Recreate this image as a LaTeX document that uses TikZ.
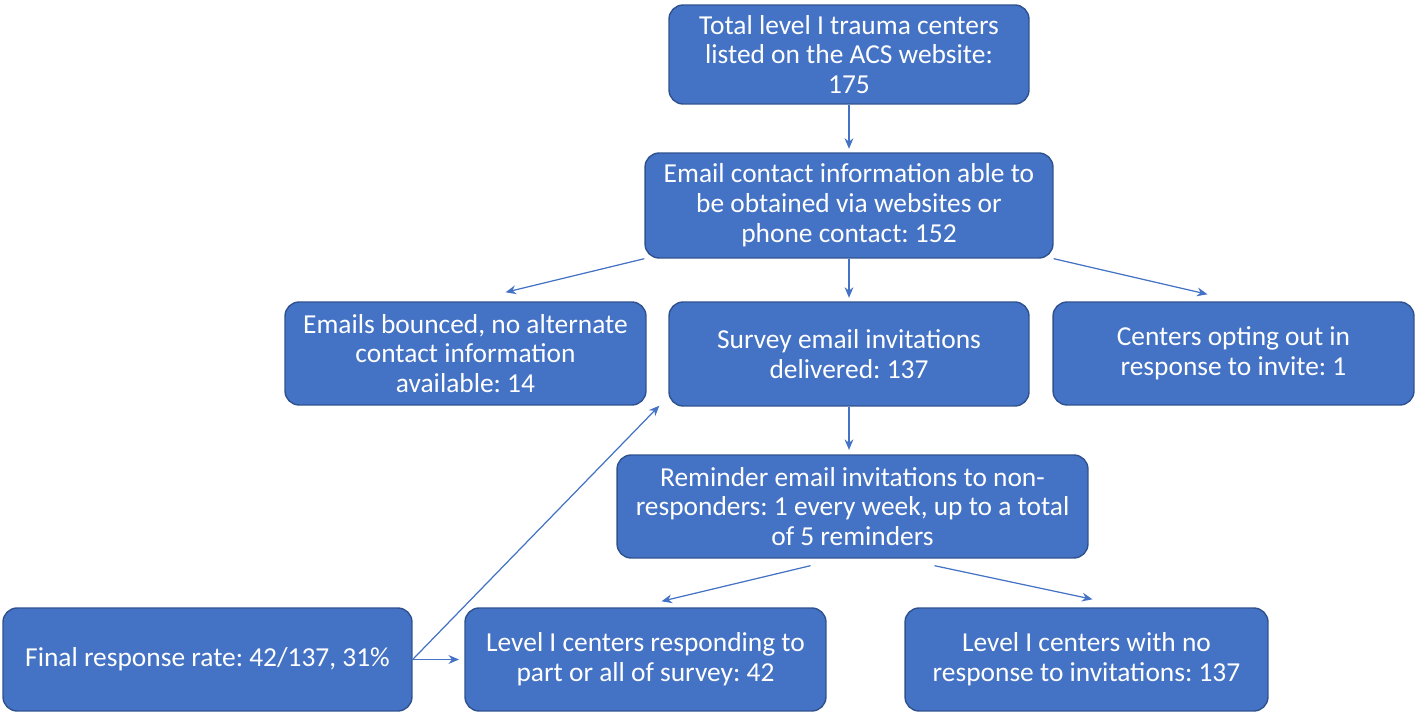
\documentclass[tikz,border=0pt]{standalone}
\usepackage{fontspec}
\setmainfont{Carlito}
\usetikzlibrary{calc,arrows.meta}
\definecolor{boxblue}{HTML}{4472C4}
\definecolor{boxedge}{HTML}{2F528F}

\begin{document}
\frenchspacing
\begin{tikzpicture}[x=0.02cm,y=-0.02cm,
  box/.style={draw=boxedge,fill=boxblue,line width=0.8pt,rounded corners=8pt,
    text=white,align=center,inner sep=0pt,font=\fontsize{15.6pt}{17pt}\selectfont},
  arr/.style={draw=boxblue,line width=0.7pt,-{Stealth[length=6pt,width=5pt]}}]
  \useasboundingbox (0,0) rectangle (1416,715);
  \node[box,minimum width=7.2cm,minimum height=1.98cm] (total) at (849,54.5) {Total level I trauma centers\\listed on the ACS website:\\175};
  \node[box,minimum width=8.16cm,minimum height=2.1cm] (contact) at (849,205.5) {Email contact information able to\\be obtained via websites or\\phone contact: 152};
  \node[box,minimum width=7.22cm,minimum height=2.06cm] (bounced) at (465.5,353.5) {Emails bounced, no alternate\\contact information\\available: 14};
  \node[box,minimum width=7.2cm,minimum height=2.08cm] (survey) at (849,354) {Survey email invitations\\delivered: 137};
  \node[box,minimum width=7.22cm,minimum height=2.06cm] (optout) at (1233.5,353.5) {Centers opting out in\\response to invite: 1};
  \node[box,minimum width=9.42cm,minimum height=2.06cm] (reminder) at (852.5,506.5) {Reminder email invitations to non-\\responders: 1 every week, up to a total\\of 5 reminders};
  \node[box,minimum width=8.18cm,minimum height=2.06cm] (final) at (207.5,659.5) {Final response rate: 42/137, 31\%};
  \node[box,minimum width=7.22cm,minimum height=2.06cm] (responding) at (645.5,659.5) {Level I centers responding to\\part or all of survey: 42};
  \node[box,minimum width=7.26cm,minimum height=2.06cm] (noresp) at (1086.5,659.5) {Level I centers with no\\response to invitations: 137};

  \draw[arr,shorten >=2pt] (total) -- (contact);
  \draw[arr] (contact.south west) -- ($(bounced.north)+(40,-9)$);
  \draw[arr,shorten >=2pt] (contact) -- (survey);
  \draw[arr] (contact.south east) -- ($(optout.north)+(-26,-7)$);
  \draw[arr,shorten >=2.5pt] (survey.south) -- (survey.south |- reminder.north);
  \draw[arr] ($(reminder.south)+(-42,7)$) -- ($(responding.north)+(16,-6)$);
  \draw[arr] ($(reminder.south)+(82,7)$) -- ($(noresp.north)+(6,-8)$);
  \draw[arr,shorten >=3pt] (final) -- (responding);
  \draw[arr] (final.east) -- ($(survey.south west)+(-9,-1)$);
\end{tikzpicture}
\end{document}
